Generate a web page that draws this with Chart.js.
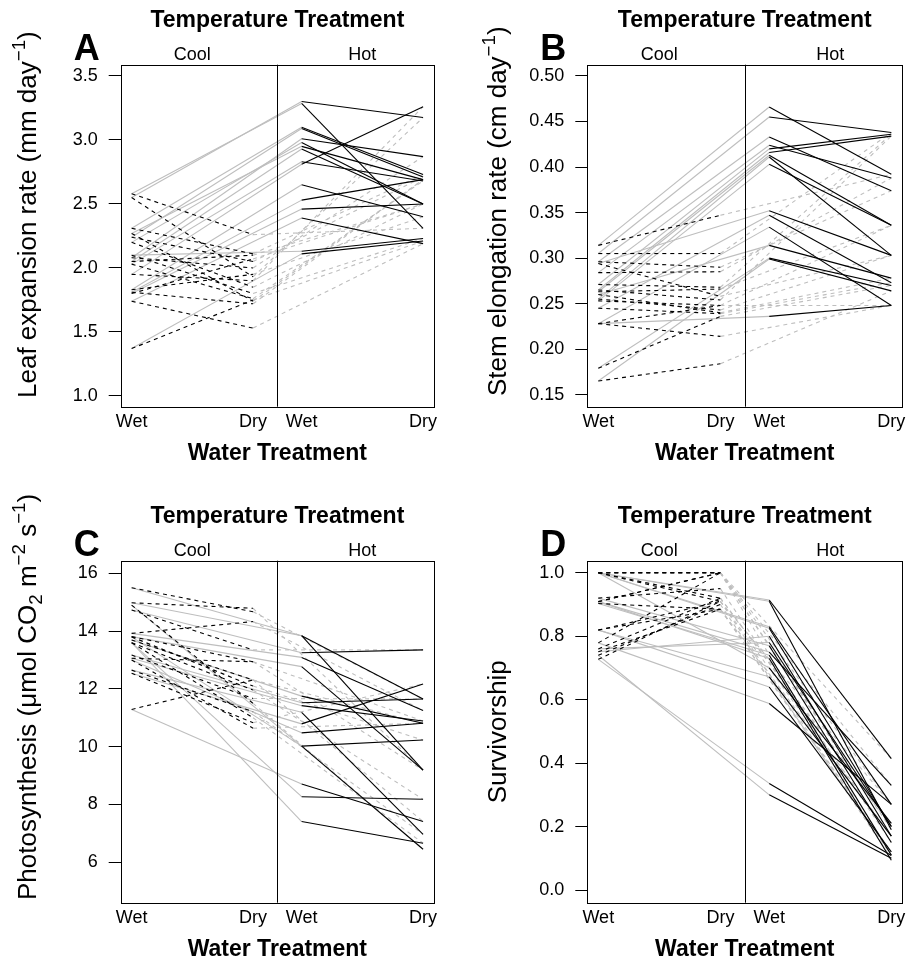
<!DOCTYPE html>
<html>
<head>
<meta charset="utf-8">
<script src="https://cdn.jsdelivr.net/npm/chart.js@4.4.1/dist/chart.umd.min.js"></script>
<style>
  body { margin: 0; background: #fff; }
  canvas { position: absolute; left: 0; top: 0; }
</style>
</head>
<body>
<canvas id="panelA"></canvas>
<canvas id="panelB"></canvas>
<canvas id="panelC"></canvas>
<canvas id="panelD"></canvas>
<script>
// Etiquetas de tratamientos
const waterLabels = ['Wet', 'Dry', 'Wet', 'Dry'];
const temperatureLabels = ['Cool', 'Hot'];

// A: expansión foliar (mm day-1), un valor por genotipo
const leafCoolWet = [2.58, 2.55, 2.31, 2.27, 2.24, 2.20, 2.08, 2.05, 2.03, 1.95, 1.83, 1.81, 1.80, 1.74, 1.37, 2.10];
const leafCoolDry = [2.26, 1.93, 2.11, 1.74, 2.05, 1.85, 2.00, 2.10, 1.76, 1.90, 1.95, 1.72, 2.07, 1.53, 1.75, 1.80];
const leafHotWet  = [3.285, 3.30, 3.10, 2.95, 3.09, 2.98, 3.01, 2.93, 2.83, 2.81, 2.65, 2.53, 2.46, 2.39, 2.11, 2.13];
const leafHotDry  = [2.31, 3.175, 2.73, 2.69, 2.71, 2.50, 2.87, 2.50, 2.68, 3.26, 2.40, 2.69, 2.50, 2.19, 2.21, 2.23];
const leafTicks = [1.0, 1.5, 2.0, 2.5, 3.0, 3.5];

// B: elongación del tallo (cm day-1)
const stemCoolWet = [0.314, 0.305, 0.296, 0.294, 0.284, 0.271, 0.265, 0.263, 0.255, 0.253, 0.245, 0.228, 0.228, 0.179, 0.165, 0.260];
const stemCoolDry = [0.347, 0.305, 0.290, 0.258, 0.285, 0.268, 0.254, 0.266, 0.243, 0.248, 0.239, 0.214, 0.248, 0.236, 0.184, 0.240];
const stemHotWet  = [0.466, 0.455, 0.433, 0.352, 0.424, 0.420, 0.416, 0.413, 0.411, 0.403, 0.347, 0.236, 0.334, 0.300, 0.299, 0.314];
const stemHotDry  = [0.392, 0.438, 0.374, 0.303, 0.388, 0.436, 0.434, 0.336, 0.303, 0.336, 0.273, 0.248, 0.248, 0.270, 0.264, 0.278];
const stemTicks = [0.15, 0.20, 0.25, 0.30, 0.35, 0.40, 0.45, 0.50];

// C: fotosíntesis (umol CO2 m-2 s-1)
const photoCoolWet = [15.50, 14.98, 14.73, 13.92, 13.81, 13.69, 13.60, 13.17, 13.06, 12.65, 12.54, 13.00, 13.80, 14.90, 11.29, 13.60];
const photoCoolDry = [14.67, 14.79, 13.35, 14.33, 12.94, 12.31, 11.96, 11.67, 12.94, 11.21, 10.83, 10.64, 12.10, 11.50, 12.31, 11.00];
const photoHotWet  = [13.84, 13.84, 13.25, 13.09, 12.77, 11.75, 8.27, 11.52, 11.42, 11.19, 10.79, 10.48, 10.02, 10.02, 8.71, 7.41];
const photoHotDry  = [11.65, 9.19, 13.35, 11.25, 9.19, 10.81, 8.18, 11.65, 10.89, 6.97, 12.17, 10.81, 10.23, 6.45, 7.41, 6.66];
const photoTicks = [6, 8, 10, 12, 14, 16];

// D: supervivencia
const survCoolWet = [1.00, 1.00, 1.00, 1.00, 0.909, 0.903, 0.909, 0.819, 0.82, 0.779, 0.751, 0.727, 0.74, 0.76, 0.92, 1.00];
const survCoolDry = [1.00, 1.00, 0.91, 1.00, 1.00, 0.885, 1.00, 0.91, 0.885, 1.00, 0.885, 0.91, 0.90, 0.92, 0.95, 0.92];
const survHotWet  = [0.914, 0.91, 0.83, 0.825, 0.75, 0.74, 0.73, 0.672, 0.64, 0.588, 0.80, 0.336, 0.30, 0.78, 0.77, 0.70];
const survHotDry  = [0.414, 0.19, 0.27, 0.20, 0.33, 0.11, 0.094, 0.17, 0.12, 0.27, 0.17, 0.109, 0.10, 0.20, 0.15, 0.21];
const survTicks = [0.0, 0.2, 0.4, 0.6, 0.8, 1.0];

// posición de cada tratamiento en el eje x (frío-húmedo, frío-seco, calor-húmedo, calor-seco)
const treatX = [0, 1, 1.4, 2.4];
const X_MIN = -0.09, X_MAX = 2.49, X_SPLIT = 1.2;

const FONT = '"Liberation Sans", Arial, Helvetica, sans-serif';
const GRAY = '#bebebe';
const W = 906, H = 962;
const Y_W = 60, X_H = 40;

// Texto con super/subíndices
function richParts(ctx, parts, size, draw) {
    let x = 0;
    parts.forEach(p => {
        const s = (p.sup || p.sub) ? size * 0.72 : size;
        ctx.font = s + 'px ' + FONT;
        const dy = p.sup ? -size * 0.42 : (p.sub ? size * 0.22 : 0);
        if (draw) ctx.fillText(p.t, x, dy);
        x += ctx.measureText(p.t).width;
    });
    return x;
}

const decorPlugin = {
    id: 'decor',
    afterDraw(chart, args, opts) {
        const ctx = chart.ctx;
        const a = chart.chartArea;
        const xs = chart.scales.x;
        ctx.save();
        ctx.strokeStyle = '#000';
        ctx.lineWidth = 1;
        // caja y división entre temperaturas
        ctx.strokeRect(Math.round(a.left) + 0.5, Math.round(a.top) + 0.5,
            Math.round(a.right - a.left), Math.round(a.bottom - a.top));
        const sx = Math.round(xs.getPixelForValue(X_SPLIT)) + 0.5;
        ctx.beginPath();
        ctx.moveTo(sx, a.top);
        ctx.lineTo(sx, a.bottom);
        ctx.stroke();

        ctx.fillStyle = '#000';
        const cx = (a.left + a.right) / 2;
        ctx.textAlign = 'center';
        ctx.textBaseline = 'alphabetic';
        ctx.font = 'bold 23px ' + FONT;
        ctx.fillText('Temperature Treatment', cx, a.top - 37.5);
        ctx.fillText('Water Treatment', cx, a.bottom + 53);
        ctx.font = '18px ' + FONT;
        ctx.fillText(temperatureLabels[0], xs.getPixelForValue((treatX[0] + treatX[1]) / 2), a.top - 5);
        ctx.fillText(temperatureLabels[1], xs.getPixelForValue((treatX[2] + treatX[3]) / 2), a.top - 5);

        ctx.textAlign = 'left';
        ctx.font = 'bold 36px ' + FONT;
        ctx.fillText(opts.letter, a.left - 47, a.top - 5);

        // título del eje y, girado
        const size = 26;
        const len = richParts(ctx, opts.yLabel, size, false);
        const start = opts.labelStart != null ? opts.labelStart : (a.top + a.bottom) / 2 + len / 2;
        ctx.translate(a.left - opts.labelOff, start);
        ctx.rotate(-Math.PI / 2);
        richParts(ctx, opts.yLabel, size, true);
        ctx.restore();
    }
};

function segments(cw, cd, hw, hd) {
    const sets = [];
    const add = (x0, y0, x1, y1, color, dash, order) => sets.push({
        data: [{ x: x0, y: y0 }, { x: x1, y: y1 }],
        borderColor: color,
        borderWidth: 1.1,
        borderDash: dash,
        pointRadius: 0,
        tension: 0,
        fill: false,
        order: order
    });
    for (let i = 0; i < cw.length; i++) {
        add(treatX[0], cw[i], treatX[2], hw[i], GRAY, [], 3);
        add(treatX[1], cd[i], treatX[3], hd[i], GRAY, [4, 4], 2);
        add(treatX[0], cw[i], treatX[1], cd[i], '#000', [4, 4], 1);
        add(treatX[2], hw[i], treatX[3], hd[i], '#000', [], 0);
    }
    return sets;
}

function makePanel(id, p) {
    const canvas = document.getElementById(id);
    canvas.width = W;
    canvas.height = H;
    return new Chart(canvas.getContext('2d'), {
        type: 'line',
        data: { datasets: segments(p.cw, p.cd, p.hw, p.hd) },
        options: {
            responsive: false,
            animation: false,
            devicePixelRatio: 1,
            layout: {
                padding: {
                    left: p.box.l - Y_W,
                    right: W - p.box.r,
                    top: p.box.t,
                    bottom: H - p.box.b - X_H
                }
            },
            plugins: {
                legend: { display: false },
                tooltip: { enabled: false },
                decor: { letter: p.letter, yLabel: p.yLabel, labelStart: p.labelStart, labelOff: p.labelOff }
            },
            scales: {
                x: {
                    type: 'linear',
                    min: X_MIN,
                    max: X_MAX,
                    afterFit: s => { s.height = X_H; },
                    afterBuildTicks: s => { s.ticks = treatX.map(v => ({ value: v })); },
                    grid: { display: false },
                    border: { display: false },
                    ticks: {
                        autoSkip: false,
                        maxRotation: 0,
                        padding: -3,
                        color: '#000',
                        font: { family: FONT, size: 18 },
                        callback: (v, i) => waterLabels[i]
                    }
                },
                y: {
                    type: 'linear',
                    min: p.yMin,
                    max: p.yMax,
                    afterFit: s => { s.width = Y_W; },
                    afterBuildTicks: s => { s.ticks = p.ticks.map(v => ({ value: v })); },
                    grid: { display: true, drawOnChartArea: false, drawTicks: true, tickLength: 12, color: '#000' },
                    border: { display: false },
                    ticks: {
                        padding: 11,
                        color: '#000',
                        font: { family: FONT, size: 18 },
                        callback: v => v.toFixed(p.digits)
                    }
                }
            }
        },
        plugins: [decorPlugin]
    });
}

const MINUS = '\u2212';

makePanel('panelA', {
    letter: 'A',
    box: { l: 120.7, t: 64.7, r: 434, b: 406.7 },
    cw: leafCoolWet, cd: leafCoolDry, hw: leafHotWet, hd: leafHotDry,
    yMin: 0.916, yMax: 3.588, ticks: leafTicks, digits: 1,
    yLabel: [{ t: 'Leaf expansion rate (mm day' }, { t: MINUS + '1', sup: true }, { t: ')' }],
    labelStart: 398, labelOff: 84.5
});

makePanel('panelB', {
    letter: 'B',
    box: { l: 587.3, t: 64.7, r: 902.3, b: 406.7 },
    cw: stemCoolWet, cd: stemCoolDry, hw: stemHotWet, hd: stemHotDry,
    yMin: 0.1368, yMax: 0.5124, ticks: stemTicks, digits: 2,
    yLabel: [{ t: 'Stem elongation rate (cm day' }, { t: MINUS + '1', sup: true }, { t: ')' }],
    labelStart: 396, labelOff: 81.5
});

makePanel('panelC', {
    letter: 'C',
    box: { l: 120.7, t: 560.7, r: 434, b: 902.7 },
    cw: photoCoolWet, cd: photoCoolDry, hw: photoHotWet, hd: photoHotDry,
    yMin: 4.602, yMax: 16.436, ticks: photoTicks, digits: 0,
    yLabel: [{ t: 'Photosynthesis (\u03bcmol CO' }, { t: '2', sub: true }, { t: ' m' },
             { t: MINUS + '2', sup: true }, { t: ' s' }, { t: MINUS + '1', sup: true }, { t: ')' }],
    labelStart: 900, labelOff: 84.5
});

makePanel('panelD', {
    letter: 'D',
    box: { l: 587.3, t: 560.7, r: 902.3, b: 902.7 },
    cw: survCoolWet, cd: survCoolDry, hw: survHotWet, hd: survHotDry,
    yMin: -0.040, yMax: 1.038, ticks: survTicks, digits: 1,
    yLabel: [{ t: 'Survivorship' }],
    labelStart: null, labelOff: 81.5
});
</script>
</body>
</html>
